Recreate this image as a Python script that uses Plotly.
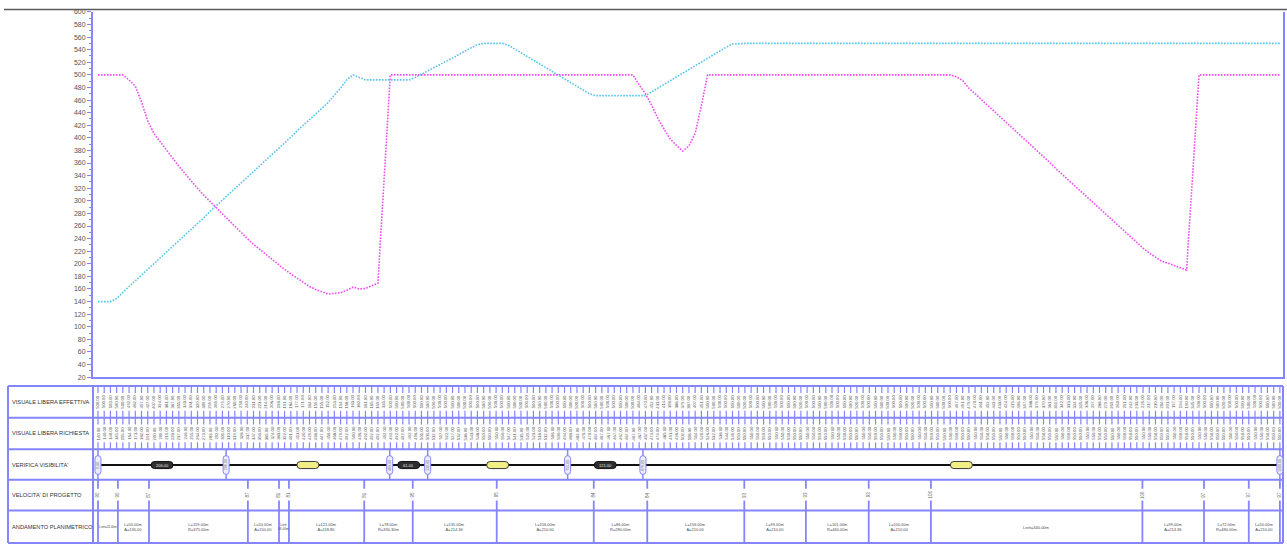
import plotly.graph_objects as go

# ---------------------------------------------------------------- data
# chainage of each computation station [m]
progressive = list(range(0, 1910, 10))

# free sight distance actually available at each station [m]
visuale_effettiva = [
    500, 500, 500, 500, 500, 492, 482, 457, 427, 407,
    394, 381, 367, 355, 343, 331, 320, 309, 299, 289,
    279, 270, 260, 250, 240, 231, 223, 214, 206, 198,
    191, 184, 177, 171, 164, 159, 155, 152, 153, 154,
    158, 163, 160, 161, 165, 169, 335, 500, 500, 500,
    500, 500, 500, 500, 500, 500, 500, 500, 500, 500,
    500, 500, 500, 500, 500, 500, 500, 500, 500, 500,
    500, 500, 500, 500, 500, 500, 500, 500, 500, 500,
    500, 500, 500, 500, 500, 500, 500, 484, 470, 452,
    431, 414, 398, 388, 379, 387, 407, 451, 500, 500,
    500, 500, 500, 500, 500, 500, 500, 500, 500, 500,
    500, 500, 500, 500, 500, 500, 500, 500, 500, 500,
    500, 500, 500, 500, 500, 500, 500, 500, 500, 500,
    500, 500, 500, 500, 500, 500, 500, 500, 497, 491,
    479, 470, 461, 452, 443, 433, 424, 415, 406, 397,
    388, 379, 370, 361, 351, 342, 333, 324, 315, 306,
    297, 288, 279, 269, 260, 251, 242, 233, 225, 217,
    210, 204, 201, 197, 194, 190, 345, 500, 500, 500,
    500, 500, 500, 500, 500, 500, 500, 500, 500, 500,
    500,
]

# free sight distance required at each station [m]
visuale_richiesta = [
    140, 140, 140, 145, 155, 164, 173, 182, 191, 200,
    209, 219, 228, 237, 246, 255, 264, 273, 283, 292,
    301, 310, 319, 328, 337, 347, 356, 365, 374, 383,
    392, 401, 411, 420, 429, 438, 447, 456, 468, 479,
    492, 500, 496, 492, 492, 492, 492, 492, 492, 492,
    492, 496, 501, 506, 512, 517, 522, 527, 532, 538,
    543, 548, 550, 550, 550, 550, 547, 541, 535, 529,
    523, 518, 512, 506, 500, 494, 488, 482, 476, 470,
    467, 467, 467, 467, 467, 467, 467, 467, 467, 473,
    479, 485, 491, 496, 502, 508, 514, 520, 526, 532,
    538, 544, 549, 550, 550, 550, 550, 550, 550, 550,
    550, 550, 550, 550, 550, 550, 550, 550, 550, 550,
    550, 550, 550, 550, 550, 550, 550, 550, 550, 550,
    550, 550, 550, 550, 550, 550, 550, 550, 550, 550,
    550, 550, 550, 550, 550, 550, 550, 550, 550, 550,
    550, 550, 550, 550, 550, 550, 550, 550, 550, 550,
    550, 550, 550, 550, 550, 550, 550, 550, 550, 550,
    550, 550, 550, 550, 550, 550, 550, 550, 550, 550,
    550, 550, 550, 550, 550, 550, 550, 550, 550, 550,
    550,
]

y_tick_values = list(range(20, 620, 20))

row_titles = [
    "VISUALE LIBERA EFFETTIVA",
    "VISUALE LIBERA RICHIESTA",
    "VERIFICA VISIBILITA'",
    "VELOCITA' DI PROGETTO",
    "ANDAMENTO PLANIMETRICO",
]

# sight-distance check: change points [m] and outcome of each stretch
verifica_punti = [0, 206, 469, 530, 755, 876, 1900]
verifica_esito = [True, False, True, False, True, False]

# horizontal alignment elements: start chainages [m] and parameters
elementi_inizio = [0, 32, 82, 241, 291, 307, 428, 506, 641, 797,
                   883, 1039, 1138, 1239, 1339, 1679, 1778, 1850]
elementi_fine = elementi_inizio[1:] + [1900]
elementi_parametro = ["", "A=130.00", "R=375.00m", "A=150.00", "", "A=118.80",
                      "R=330.30m", "A=214.36", "A=210.00", "R=280.00m", "A=210.00",
                      "A=210.00", "R=460.00m", "A=210.00", "", "A=214.36",
                      "R=480.00m", "A=210.00"]
# design speed at each element boundary [km/h]
velocita_progetto = [90, 90, 87, 87, 81, 81, 81, 95, 95, 84,
                     84, 93, 93, 93, 106, 106, 97, 97, 97]

# ---------------------------------------------------------------- layout constants
W, H = 1287, 547
BLUE = "#8585ff"
TXT = "#555555"
FONT = "Liberation Sans, Arial, sans-serif"

X0_PX, X1_PX = 93, 1283
X_RANGE = [-8.0, 1905.0]
PX_PER_M = (X1_PX - X0_PX) / (X_RANGE[1] - X_RANGE[0])
PLOT_TOP_PX, PLOT_BOT_PX = 8, 378
ROWS = [387, 419, 451, 482, 513, 546]   # table row boundaries (pixel rows)
TABLE_LEFT, TABLE_SPLIT = 8, 93


def pap_x(px):
    return px / W


def pap_y(px):
    return 1 - px / H


fig = go.Figure()

# ---------------------------------------------------------------- sight distance curves
fig.add_trace(go.Scatter(
    x=progressive, y=visuale_richiesta, mode="lines",
    line=dict(color="#52c6ef", width=1.6, dash="1.6px,1.4px"),
    hoverinfo="skip", showlegend=False))
fig.add_trace(go.Scatter(
    x=progressive, y=visuale_effettiva, mode="lines",
    line=dict(color="#f24af2", width=1.6, dash="1.6px,1.4px"),
    hoverinfo="skip", showlegend=False))

shapes = []
annotations = []


def seg_trace(xs, ys, color, width):
    fig.add_trace(go.Scatter(x=xs, y=ys, xaxis="x", yaxis="y2", mode="lines",
                             line=dict(color=color, width=width),
                             hoverinfo="skip", showlegend=False))


# ---------------------------------------------------------------- table frame
for yb in ROWS:
    shapes.append(dict(type="line", xref="paper", yref="y2",
                       x0=pap_x(TABLE_LEFT), x1=pap_x(X1_PX), y0=yb, y1=yb,
                       line=dict(color=BLUE, width=2)))
for xb in (TABLE_LEFT, TABLE_SPLIT, X1_PX):
    shapes.append(dict(type="line", xref="paper", yref="y2",
                       x0=pap_x(xb), x1=pap_x(xb), y0=ROWS[0], y1=ROWS[-1],
                       line=dict(color=BLUE, width=2)))

for k, title in enumerate(row_titles):
    annotations.append(dict(xref="paper", yref="y2", x=pap_x(10),
                            y=(ROWS[k] + ROWS[k + 1]) / 2, text=title,
                            xanchor="left", yanchor="middle", showarrow=False,
                            font=dict(family=FONT, size=5.7, color="#333333")))

# ---------------------------------------------------------------- rows 1-2: station values
tx, ty = [], []
for r, serie in enumerate((visuale_effettiva, visuale_richiesta)):
    top, bot = ROWS[r], ROWS[r + 1]
    for s, v in zip(progressive, serie):
        tx += [s, s, None, s, s, None]
        ty += [top, top + 7, None, bot - 7, bot, None]
        annotations.append(dict(x=s, y=(top + bot) / 2, xref="x", yref="y2",
                                text=f"{v:.2f}", textangle=-90, showarrow=False,
                                font=dict(family=FONT, size=4.2, color="#505050")))
seg_trace(tx, ty, BLUE, 1.2)

# ---------------------------------------------------------------- row 3: sight check
yc = (ROWS[2] + ROWS[3]) / 2 + 0.5
vx, vy = [], []
for p in verifica_punti:
    vx += [p, p, None]
    vy += [ROWS[2], ROWS[3], None]
seg_trace(vx, vy, BLUE, 1.5)
seg_trace([verifica_punti[0], verifica_punti[-1]], [yc, yc], "#111111", 2)


def rounded_box(xc, ycen, half_w_px, half_h_px, r_px):
    rx = r_px / PX_PER_M
    xl = xc - half_w_px / PX_PER_M
    xr = xc + half_w_px / PX_PER_M
    yt, yb_ = ycen - half_h_px, ycen + half_h_px
    return (f"M {xl + rx},{yt} L {xr - rx},{yt} Q {xr},{yt} {xr},{yt + r_px} "
            f"L {xr},{yb_ - r_px} Q {xr},{yb_} {xr - rx},{yb_} "
            f"L {xl + rx},{yb_} Q {xl},{yb_} {xl},{yb_ - r_px} "
            f"L {xl},{yt + r_px} Q {xl},{yt} {xl + rx},{yt} Z")


for a, b, ok in zip(verifica_punti[:-1], verifica_punti[1:], verifica_esito):
    mid = (a + b) / 2
    if ok:
        shapes.append(dict(type="path", xref="x", yref="y2",
                           path=rounded_box(mid, yc, 11, 3.6, 3.6),
                           fillcolor="#2e2e2e", line=dict(color="#111111", width=1)))
        annotations.append(dict(x=mid, y=yc, xref="x", yref="y2",
                                text=f"{b - a:.2f}", showarrow=False,
                                font=dict(family=FONT, size=4, color="#e0e0e0")))
    else:
        shapes.append(dict(type="path", xref="x", yref="y2",
                           path=rounded_box(mid, yc, 11, 3.6, 3.6),
                           fillcolor="#f2ee86", line=dict(color="#3a3a3a", width=1)))

for p in verifica_punti:
    shapes.append(dict(type="path", xref="x", yref="y2",
                       path=rounded_box(p, yc, 3, 9.5, 3),
                       fillcolor="#eeeefa", line=dict(color=BLUE, width=1)))
    annotations.append(dict(x=p, y=yc, xref="x", yref="y2", text=f"{p:.2f}",
                            textangle=-90, showarrow=False,
                            font=dict(family=FONT, size=3.6, color="#666666")))

# ---------------------------------------------------------------- rows 4-5: speed and alignment
bounds = elementi_inizio + [elementi_fine[-1]]
sx, sy = [], []
for p, v in zip(bounds, velocita_progetto):
    sx += [p, p, None, p, p, None]
    sy += [ROWS[3], ROWS[3] + 9, None, ROWS[3] + 21, ROWS[5], None]
    annotations.append(dict(x=p, y=ROWS[3] + 15, xref="x", yref="y2", text=str(v),
                            textangle=-90, showarrow=False,
                            font=dict(family=FONT, size=4.5, color="#666666")))
seg_trace(sx, sy, BLUE, 1.8)

for a, b, par in zip(elementi_inizio, elementi_fine, elementi_parametro):
    length = b - a
    size = 4
    if par == "":
        if length < 25:
            text = f"Lrett<br>{length:.2f}m"
            size = 3.2
        elif length < 40:
            text = f"Lrett={length:.2f}m"
            size = 3.0
        else:
            text = f"Lrett={length:.2f}m"
    else:
        text = f"L={length:.2f}m<br>{par}"
    annotations.append(dict(x=(a + b) / 2, y=(ROWS[4] + ROWS[5]) / 2 + 0.5,
                            xref="x", yref="y2", text=text, showarrow=False,
                            font=dict(family=FONT, size=size, color="#4a4a4a")))

# ---------------------------------------------------------------- frame of the chart area
shapes.append(dict(type="line", xref="paper", yref="paper",
                   x0=pap_x(4), x1=1, y0=pap_y(5.5), y1=pap_y(5.5),
                   line=dict(color="#5a5a5a", width=1.6)))

fig.update_layout(
    width=W, height=H,
    margin=dict(l=0, r=0, t=0, b=0),
    paper_bgcolor="white", plot_bgcolor="rgba(0,0,0,0)",
    showlegend=False,
    shapes=shapes,
    annotations=annotations,
    xaxis=dict(domain=[pap_x(X0_PX), pap_x(X1_PX)], range=X_RANGE,
               showticklabels=False, ticks="", showgrid=False, zeroline=False,
               showline=True, linecolor=BLUE, linewidth=1.6, anchor="y"),
    yaxis=dict(domain=[pap_y(PLOT_BOT_PX), pap_y(PLOT_TOP_PX)], range=[20, 600],
               tickvals=y_tick_values, ticks="outside", ticklen=4, tickcolor=BLUE,
               tickwidth=1, showgrid=False, zeroline=False,
               showline=True, linecolor=BLUE, linewidth=2, mirror=True,
               tickfont=dict(family=FONT, size=7, color=TXT),
               minor=dict(dtick=10, ticks="outside", ticklen=2, tickcolor=BLUE),
               anchor="x"),
    yaxis2=dict(domain=[0, 1], range=[H, 0], visible=False, anchor="x",
                showgrid=False, zeroline=False),
    hovermode=False,
)

fig.write_html("out.html")
